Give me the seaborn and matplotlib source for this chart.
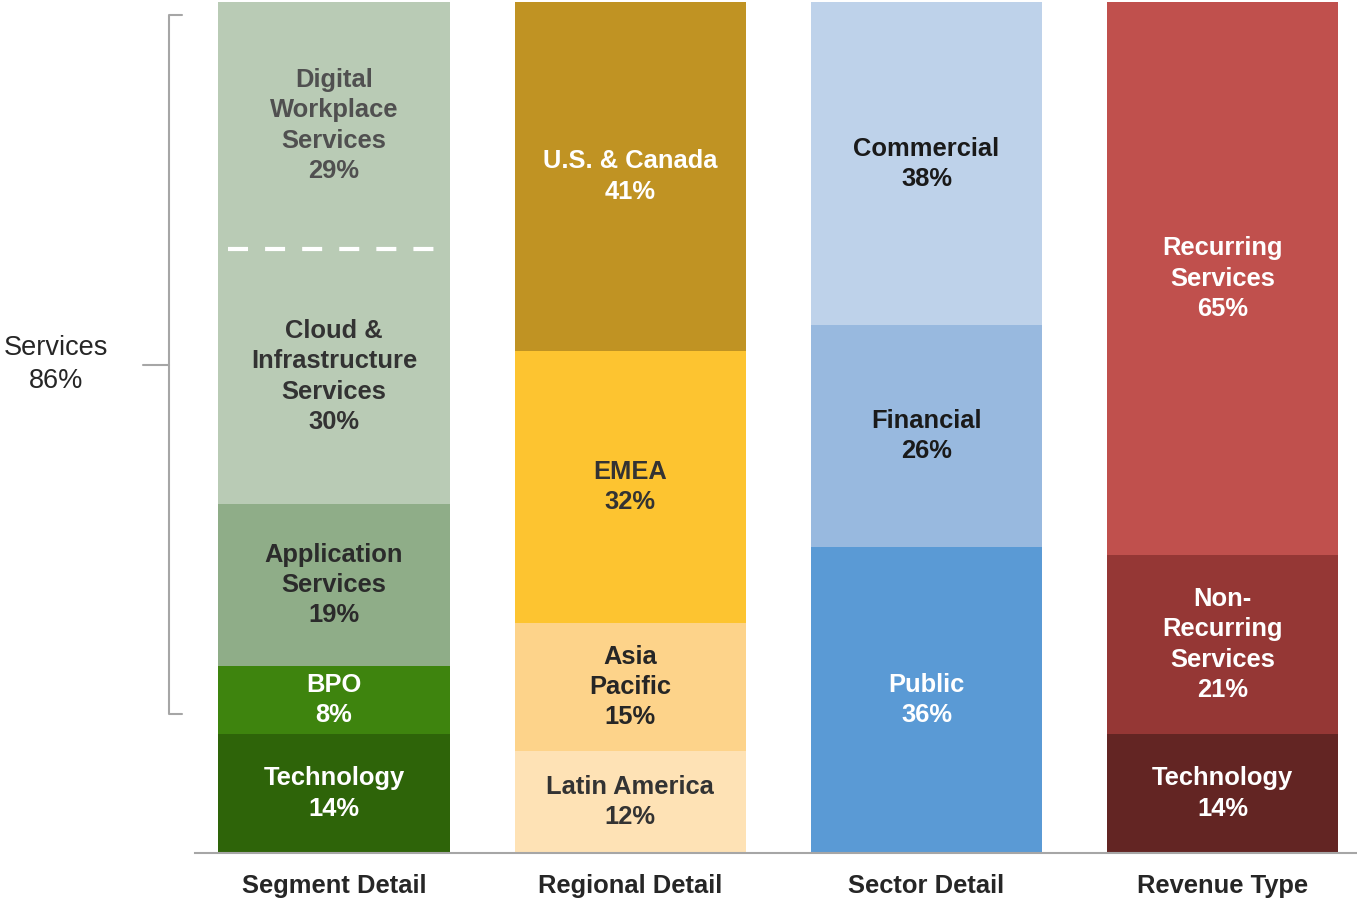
import numpy as np
import pandas as pd
import matplotlib
matplotlib.use("Agg")
import matplotlib.pyplot as plt
import seaborn as sns

# categories (one bar each)
groups = ["Segment Detail", "Regional Detail", "Sector Detail", "Revenue Type"]

# segments listed bottom -> top
segment_labels = ["Technology", "BPO", "Application\nServices",
                  "Cloud &\nInfrastructure\nServices", "Digital\nWorkplace\nServices"]
segment_values = [14, 8, 19, 30, 29]

regional_labels = ["Latin America", "Asia\nPacific", "EMEA", "U.S. & Canada"]
regional_values = [12, 15, 32, 41]

sector_labels = ["Public", "Financial", "Commercial"]
sector_values = [36, 26, 38]

revenue_labels = ["Technology", "Non-\nRecurring\nServices", "Recurring\nServices"]
revenue_values = [14, 21, 65]

# styling
segment_colors = ["#2E6409", "#3E840E", "#8FAD88", "#B9CBB5", "#B9CBB5"]
segment_text = ["white", "white", "#2b2b2b", "#333333", "#505050"]
regional_colors = ["#FEE2B5", "#FDD38A", "#FDC430", "#C09323"]
regional_text = ["#333333", "#262626", "#333333", "white"]
sector_colors = ["#5A9AD5", "#98B9DF", "#BED2EA"]
sector_text = ["white", "#1a1a1a", "#1a1a1a"]
revenue_colors = ["#632523", "#953735", "#C0504D"]
revenue_text = ["white", "white", "white"]

rows = []
for g, labs, vals, cols, tcols in zip(
        groups,
        [segment_labels, regional_labels, sector_labels, revenue_labels],
        [segment_values, regional_values, sector_values, revenue_values],
        [segment_colors, regional_colors, sector_colors, revenue_colors],
        [segment_text, regional_text, sector_text, revenue_text]):
    tops = np.cumsum(vals)
    for lab, v, top, c, tc in zip(labs, vals, tops, cols, tcols):
        rows.append(dict(group=g, label=lab, value=v, top=top,
                         bottom=top - v, color=c, tcolor=tc))
df = pd.DataFrame(rows)

sns.set_style("white")
plt.rcParams["font.family"] = ["Liberation Sans", "DejaVu Sans"]

fig = plt.figure(figsize=(13.57, 8.99), dpi=100)
ax = fig.add_axes([195 / 1357, 46 / 899, 1162 / 1357, 851 / 899])

# stacked bars: draw cumulative heights, tallest first
for _, r in df.sort_values("top", ascending=False).iterrows():
    sns.barplot(x=[r.group], y=[r.top], order=groups, color=r.color,
                saturation=1, width=0.78, linewidth=0, errorbar=None, ax=ax)

for _, r in df.iterrows():
    i = groups.index(r.group)
    ax.text(i, (r.bottom + r.top) / 2, f"{r.label}\n{r.value}%",
            ha="center", va="center", fontsize=18.4, fontweight="bold",
            color=r.tcolor, linespacing=1.33)

# dashed divider between the two services blocks sharing a colour
cloud_top = sum(segment_values[:4])
ax.hlines(cloud_top, -0.358, 0.34, colors="white", lw=3,
          linestyles=(0, (4.8, 4.1)))

# services bracket
services = sum(segment_values[1:])
b_top, b_bot = 100 - 1.5, segment_values[0] + 2.3
b_mid = (b_top + b_bot) / 2
ax.plot([-0.513, -0.557, -0.557, -0.513], [b_top, b_top, b_bot, b_bot],
        color="#A6A6A6", lw=1.5, clip_on=False)
ax.plot([-0.645, -0.557], [b_mid, b_mid], color="#A6A6A6", lw=1.5, clip_on=False)
ax.text(-0.938, b_mid, f"Services\n{services}%", ha="center", va="center",
        fontsize=19.5, color="#262626", linespacing=1.32, clip_on=False)

ax.set_xlim(-0.469, 3.453)
ax.set_ylim(0, 100)
ax.set_xticks(range(len(groups)))
ax.set_xticklabels(groups, fontsize=18.4, fontweight="bold", color="#262626")
ax.tick_params(axis="x", length=0, pad=15)
ax.set_yticks([])
ax.set_xlabel("")
ax.set_ylabel("")
for s in ["left", "top", "right"]:
    ax.spines[s].set_visible(False)
ax.spines["bottom"].set_color("#A6A6A6")
ax.spines["bottom"].set_linewidth(1.5)

fig.savefig("out.png", dpi=100)
